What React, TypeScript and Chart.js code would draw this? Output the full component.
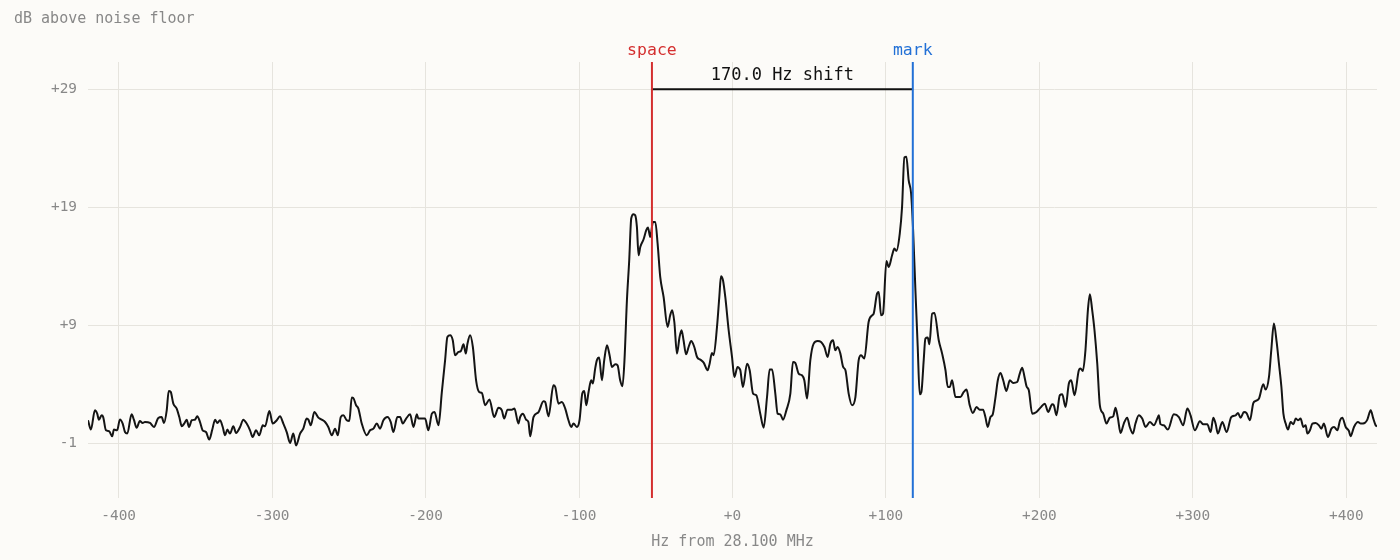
import { useEffect, useRef } from "react";
import { Chart, registerables } from "chart.js";

Chart.register(...registerables);

const FONT = '"DejaVu Sans Mono", monospace';
const BG = "#fcfbf8";

// spectrum trace, Hz offset from the dial frequency
const freqHz = [
  -420, -418.1, -415.5, -414, -412.9, -411.1, -410.1, -408.3, -406.2, -404.2, -403.1, -401, -399.2, -397.4,
  -395.9, -394.4, -391.6, -390.1, -388.3, -386.2, -384.4, -382.9, -379.6, -377, -374.2, -372, -370.5, -368.7,
  -367.4, -366.1, -364.4, -362.2, -360.5, -358.9, -357.3, -355.7, -354.2, -352.4, -350.3, -348.8, -347, -345.3,
  -343.1, -341, -339, -337.2, -335.7, -334, -332.2, -330.7, -329.2, -327.5, -325.3, -323.5, -320.9, -318.8,
  -316.6, -314.4, -312.7, -310.5, -308.4, -306.1, -304.6, -301.8, -299.6, -297, -294.9, -292.7, -290.5, -288.3,
  -286.2, -284.4,
  -281.8, -279.7, -277.5, -276.4, -274.8, -272.5, -269.9, -267.7, -265.5, -263.4, -261.1, -259, -257.2, -255.3,
  -253.6, -251.4, -249.7, -248.1, -247.1, -245.3, -243.8, -241.6, -238.3, -236.2, -234, -231.8, -229.7, -227.5,
  -224.9, -222.7, -221, -218.4, -216.6, -214.9, -212.7, -210.1, -207.9, -205.7, -204.7, -202.5, -200.3, -198.2,
  -195.9, -194.2, -191.6, -189.4, -187.3, -185.8, -184, -182.3, -180.8, -178.6, -177, -175.3, -173.8, -172.7,
  -171, -169.2, -167.1, -165.1, -163.3, -161.2, -158.4, -155.3, -152.5, -150.3, -148.8, -146.6, -143.8, -142.1,
  -139.5,
  -138.4, -136.6, -134.5, -133, -131.8, -129.7, -126.4, -123.2, -122.1, -119.9, -116.7, -115.5, -113.4, -111.2,
  -109, -106.9, -105.1, -103.6, -101.4, -99.7, -97.9, -96.6, -95.3, -93.8, -92.1, -91, -89.5, -88.4, -86.9,
  -85.1, -83.6, -81.8, -80.1, -78.6, -76.4, -74.9, -73.2, -71.7, -70.4, -68.8, -67.3, -66, -64.5, -63.4, -62.3,
  -61.2, -60.1, -58, -56.2, -55.1, -53.6, -51.8, -50.3, -48.8, -47.1, -44.9, -42.3, -40.6, -39.3, -37.9, -36.2,
  -34.5, -33.2, -31.9, -30.3, -28.6, -26.9, -24.9, -23.1, -21, -18.8, -16.2, -14.9, -13.4, -12.3, -10.1, -8.6,
  -7.5, -6.2, -4.7, -2.5, -0.3, 1.2, 3.3, 4.6,
  5.1, 6.8, 9.5, 11.2, 13.4, 15.5, 18.1, 20.3, 22.5, 24.2, 25.8, 27.9, 29.4, 31.2, 32.9, 35.1, 37.7, 39.4, 40.9,
  43.1, 45.3, 46.8, 48.6, 50.7, 52.9, 55.5, 57.7, 59.9, 62, 63.8, 65.5, 67, 68.5, 70.3, 72.1, 73.6, 75.7, 77.9,
  80.1, 82.2, 83.8, 85.9, 88.7, 91, 92, 94.2, 95.3, 96.8, 98.1, 100.3, 101.8, 104, 105.5, 106.8, 109, 110.5,
  112, 113.3, 114.8, 116.4, 117.7, 119.2, 120.7, 122, 123.1, 124.6, 125.7, 127.2, 128.3, 130.1, 131.6, 134.4,
  136.6, 138.8, 140.3, 141.6,
  143.1, 145.3, 148.5, 150.7, 152.5, 154.6, 156.6, 159, 161.1, 163.3, 164.8, 166.3, 168.1, 169.6, 171.4, 172.9,
  174.6, 176.4, 178.5, 180.7, 182.9, 185.5, 187.2, 188.8, 190.3, 191.6, 193.1, 195.3, 198.1, 200.7, 203.5,
  205.7, 208.3, 209.4, 211.1, 213.3, 214.9, 217, 219.2, 220.7, 222.9, 225.7, 226.8, 228.3, 230, 231.6, 232.9,
  234.4, 235.9, 237.7, 239.4, 241.6, 243.7, 245.9, 248.1, 249.6, 251.1, 252.9, 255, 257.2, 258.9, 260.9, 262.6,
  264.8, 267, 269.2, 272, 274.6, 276.8, 277.8,
  278.9, 281.1, 283.7, 287.6, 290.9, 293.7, 296.4, 298.5, 301.3, 304.6, 306.8, 309.4, 311.6, 313.3, 314.8,
  316.3, 319.2, 322, 325, 327.9, 329.4, 331.1, 333.3, 335, 337.2, 339.4, 340.9, 343.1, 345.9, 347.4, 349.6,
  351.1, 352.8, 354.6, 356.1, 357.7, 359, 360.5, 362, 363.7, 365.5, 367, 368.5, 370.2, 372, 373.5, 374.6, 376.3,
  377.9, 380, 382.2, 383.7, 385.4, 388, 390.3, 392, 394.2, 395.9, 397.4, 399.6, 401.7, 402.8, 405, 407.6, 409.4,
  412, 413.7, 415.9, 417.6, 419.1, 420,
];

// dB above the noise floor at each frequency above
const levelDb = [
  0.93, 0.14, 1.77, 1.49, 0.98, 1.35, 1.2, 0.08, 0.0, -0.43, 0.14, 0.08, 1.0, 0.65,
  -0.07, -0.2, 1.43, 0.98, 0.3, 0.87, 0.7, 0.78, 0.7, 0.36, 1.12, 1.2, 0.7, 1.77,
  3.41, 3.33, 2.34, 1.92, 1.2, 0.42, 0.65, 0.98, 0.36, 0.93, 0.98, 1.26, 0.78, 0.08,
  -0.07, -0.71, 0.14, 0.98, 0.7, 0.93, 0.36, -0.35, 0.14, -0.2, 0.42, -0.15, 0.36, 0.98,
  0.65, 0.08, -0.49, 0.08, -0.35, 0.5, 0.42, 1.71, 0.65, 0.93, 1.26, 0.65, -0.07, -1.0,
  -0.2, -1.2,
  -0.2, 0.22, 1.07, 0.98, 0.5, 1.63, 1.15, 0.98, 0.78, 0.36, -0.35, 0.22, -0.35, 1.2,
  1.35, 0.93, 0.87, 2.85, 2.82, 2.2, 1.92, 0.65, -0.35, 0.08, 0.22, 0.65, 0.22, 0.93,
  1.2, 0.78, -0.07, 1.2, 1.2, 0.65, 1.07, 1.43, 0.36, 1.43, 1.07, 1.07, 1.07, 0.08,
  1.49, 1.63, 0.5, 3.33, 6.01, 7.99, 8.13, 7.71, 6.44, 6.72, 6.8, 7.37, 6.58, 7.43,
  8.13, 7.14, 4.32, 3.33, 3.24, 2.2, 2.7, 1.2, 2.0, 1.77, 1.07, 1.83, 1.83, 1.92,
  0.65,
  1.2, 1.49, 0.98, 0.78, -0.43, 1.2, 1.63, 2.54, 2.48, 1.26, 3.89, 3.75, 2.34, 2.48,
  1.92, 0.93, 0.36, 0.65, 0.36, 0.93, 3.19, 3.41, 2.2, 3.33, 4.32, 4.04, 5.31, 6.01, 6.24,
  4.32, 6.01, 7.29, 6.44, 5.45, 5.68, 5.59, 4.32, 3.81, 6.01, 11.1, 14.5, 18.03, 18.4, 18.31, 17.32,
  14.92, 15.62, 16.25, 17.04, 17.27, 16.47, 17.74, 17.74, 15.9, 13.08, 11.38, 8.84, 9.83, 10.26, 9.26, 6.58,
  7.99, 8.56, 7.71, 6.52, 7.14, 7.65, 7.14, 6.29, 6.07, 5.82, 5.17, 5.73, 6.63, 6.44, 8.84, 11.38,
  13.14, 12.8, 11.38, 8.56, 6.29, 4.6, 5.45, 5.31,
  5.17, 3.75, 5.73, 5.17, 3.19, 3.05, 1.49, 0.3, 2.9, 5.23, 5.23, 3.19, 1.49, 1.43, 0.98, 1.77, 3.19, 5.87, 5.79,
  4.89, 4.74, 4.32, 2.77, 6.01, 7.43, 7.65, 7.57, 7.14, 6.29, 7.43, 7.71, 6.86, 7.14, 6.58, 5.45, 5.17, 3.19, 2.2,
  2.9, 6.01, 6.44, 6.16, 9.26, 9.83, 9.97, 11.67, 11.81, 9.83, 9.97, 14.44, 13.93, 14.92, 15.49, 15.29, 16.76, 19.02,
  23.21, 23.26, 21.28, 20.15, 17.04, 11.95, 7.14, 3.13, 3.33, 6.01, 7.85, 7.94, 7.37, 9.97, 10.03, 7.71,
  6.58, 5.17, 3.75, 3.75,
  4.32, 2.9, 2.9, 3.33, 3.53, 2.2, 1.54, 2.05, 1.83, 1.83, 1.2, 0.36, 1.2, 1.43, 2.9, 4.32,
  4.94, 4.32, 3.41, 4.32, 4.09, 4.17, 4.89, 5.39, 4.6, 3.81, 3.47, 1.49, 1.63, 2.0, 2.34,
  1.63, 2.28, 2.2, 1.35, 3.05, 3.13, 2.05, 4.04, 4.32, 3.05, 5.17, 5.31, 5.11, 6.86, 10.26, 11.61,
  10.26, 8.56, 5.73, 2.2, 1.49, 0.65, 1.15, 1.26, 2.0, 1.15, -0.15, 0.65, 1.15, 0.36, -0.2, 0.65,
  1.35, 1.07, 0.36, 0.78, 0.5, 1.07, 1.35,
  0.6, 0.5, 0.14, 1.43, 1.2, 0.5, 1.92, 1.35, 0.08, 0.84, 0.59, 0.59, -0.07, 1.15, 0.65,
  -0.2, 0.78, -0.07, 1.2, 1.35, 1.54, 1.15, 1.63, 1.54, 0.93, 2.39, 2.56, 2.77, 3.98, 3.53, 4.6,
  6.86, 9.13, 7.57, 5.73, 3.75, 1.49, 0.65, 0.14, 0.78, 0.59, 1.07, 0.93, 1.07, 0.36, 0.5, -0.2, 0.08,
  0.65, 0.7, 0.5, 0.22, 0.65, -0.49, 0.22, 0.36, 0.08, 0.93, 1.15, 0.36, 0.02, -0.43, 0.36, 0.78, 0.65,
  0.7, 0.98, 1.77, 1.07, 0.5, 0.4,
];

const xTicks = [-400, -300, -200, -100, 0, 100, 200, 300, 400];
const yTicks = [-1, 9, 19, 29];

const SPACE_HZ = -52.5;
const MARK_HZ = 117.5;

const xLabel = "Hz from 28.100 MHz";
const yLabel = "dB above noise floor";

const fskMarkers = {
  id: "fskMarkers",
  afterDatasetsDraw(chart: Chart) {
    const { ctx, chartArea } = chart;
    const xs = chart.scales.x;
    const ys = chart.scales.y;
    const sx = xs.getPixelForValue(SPACE_HZ);
    const mx = xs.getPixelForValue(MARK_HZ);
    const by = ys.getPixelForValue(yTicks[yTicks.length - 1]);

    ctx.save();
    // shift bracket
    ctx.strokeStyle = "#111";
    ctx.lineWidth = 2;
    ctx.beginPath();
    ctx.moveTo(sx, by);
    ctx.lineTo(mx, by);
    ctx.stroke();

    // space / mark lines
    ctx.lineWidth = 2;
    ctx.strokeStyle = "#d42f2f";
    ctx.beginPath();
    ctx.moveTo(sx, chartArea.top);
    ctx.lineTo(sx, chartArea.bottom);
    ctx.stroke();
    ctx.strokeStyle = "#2270d6";
    ctx.beginPath();
    ctx.moveTo(mx, chartArea.top);
    ctx.lineTo(mx, chartArea.bottom);
    ctx.stroke();

    ctx.textAlign = "center";
    ctx.textBaseline = "alphabetic";
    ctx.font = `16.5px ${FONT}`;
    ctx.fillStyle = "#d42f2f";
    ctx.fillText("space", sx, chartArea.top - 7);
    ctx.fillStyle = "#2270d6";
    ctx.fillText("mark", mx, chartArea.top - 7);

    ctx.font = `17px ${FONT}`;
    ctx.fillStyle = "#111";
    ctx.fillText(`${(MARK_HZ - SPACE_HZ).toFixed(1)} Hz shift`, (sx + mx) / 2, by - 9);

    // y axis caption, top left
    ctx.textAlign = "left";
    ctx.font = `15px ${FONT}`;
    ctx.fillStyle = "#888";
    ctx.fillText(yLabel, 14, 23);
    ctx.restore();
  },
};

export default function App() {
  const canvasRef = useRef<HTMLCanvasElement | null>(null);

  useEffect(() => {
    document.body.style.margin = "0";
    document.body.style.background = BG;
    if (!canvasRef.current) return;

    Chart.defaults.font.family = FONT;

    const chart = new Chart(canvasRef.current, {
      type: "line",
      data: {
        datasets: [
          {
            label: "level",
            data: freqHz.map((f, i) => ({ x: f, y: levelDb[i] })),
            borderColor: "#141414",
            borderWidth: 2,
            pointRadius: 0,
            cubicInterpolationMode: "monotone",
            fill: false,
          },
        ],
      },
      options: {
        animation: false,
        responsive: true,
        maintainAspectRatio: false,
        layout: { padding: { top: 62, right: 23, left: 0, bottom: 0 } },
        plugins: {
          legend: { display: false },
          tooltip: { enabled: false },
        },
        scales: {
          x: {
            type: "linear",
            min: -420,
            max: 420,
            afterBuildTicks: (s) => {
              s.ticks = xTicks.map((v) => ({ value: v }));
            },
            afterFit: (s) => {
              s.height = 62;
            },
            grid: { color: "#e6e4de", lineWidth: 1, drawTicks: false },
            border: { display: false },
            ticks: {
              padding: 10,
              color: "#888",
              font: { size: 14.4, family: FONT },
              maxRotation: 0,
              callback: (v) => {
                const n = Number(v);
                return n >= 0 ? `+${n}` : `${n}`;
              },
            },
            title: {
              display: true,
              text: xLabel,
              color: "#888",
              font: { size: 15, family: FONT },
              padding: { top: 0, bottom: 9 },
            },
          },
          y: {
            type: "linear",
            min: -5.66,
            max: 31.3,
            afterBuildTicks: (s) => {
              s.ticks = yTicks.map((v) => ({ value: v }));
            },
            afterFit: (s) => {
              s.width = 88;
            },
            grid: { color: "#e6e4de", lineWidth: 1, drawTicks: false },
            border: { display: false },
            ticks: {
              padding: 11,
              color: "#888",
              font: { size: 14.4, family: FONT },
              callback: (v) => {
                const n = Number(v);
                return n > 0 ? `+${n}` : `${n}`;
              },
            },
          },
        },
      },
      plugins: [fskMarkers],
    });

    return () => chart.destroy();
  }, []);

  return (
    <div style={{ width: 1400, height: 560, background: BG, position: "relative" }}>
      <canvas ref={canvasRef} />
    </div>
  );
}
